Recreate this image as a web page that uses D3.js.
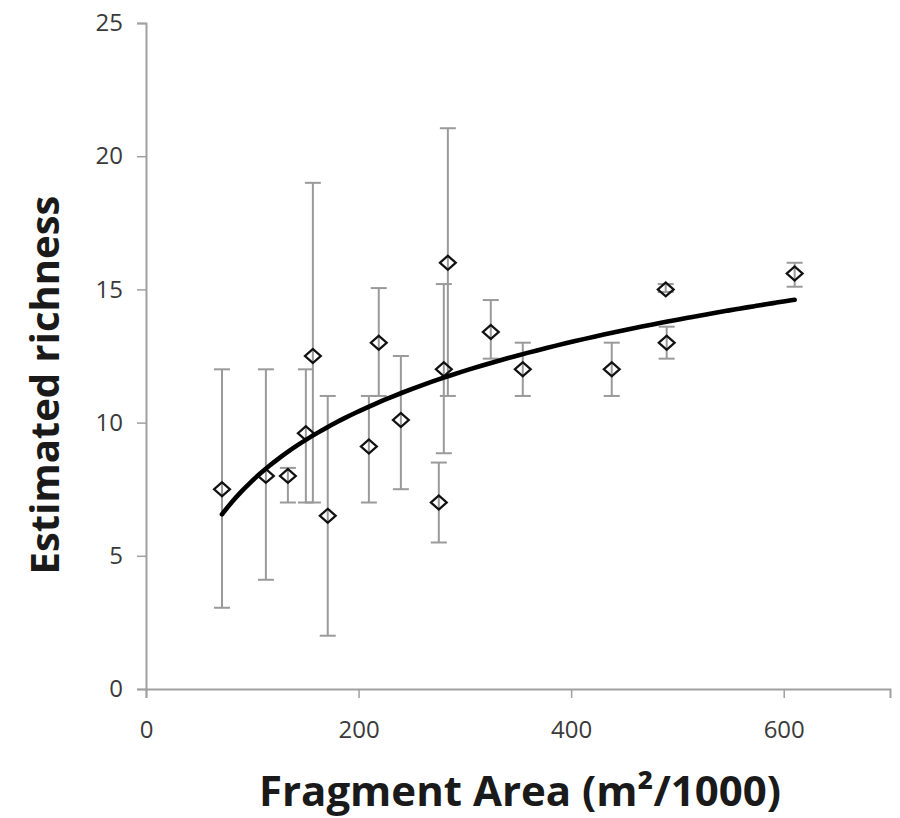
<!DOCTYPE html>
<html>
<head>
<meta charset="utf-8">
<script src="https://cdn.jsdelivr.net/npm/d3@7"></script>
<style>
  body { margin: 0; background: #fff; }
  svg { display: block; }
</style>
</head>
<body>
<div id="chart"></div>
<script>
// Fragment area (m2/1000), estimated richness and its error bar ends
const area =     [71.5, 112.8, 133.5, 150.4, 157, 171, 209.7, 219, 239.8, 275.5, 280.2, 284, 324.4, 354.5, 438.2, 489, 489.9, 610.3];
const richness = [7.5, 8.0, 8.0, 9.6, 12.5, 6.5, 9.1, 13.0, 10.1, 7.0, 12.0, 16.0, 13.4, 12.0, 12.0, 15.0, 13.0, 15.6];
const lower =    [3.05, 4.1, 7.0, 7.0, 7.0, 2.0, 7.0, 11.0, 7.5, 5.5, 8.85, 11.0, 12.4, 11.0, 11.0, 14.9, 12.4, 15.1];
const upper =    [12.0, 12.0, 8.3, 12.0, 19.0, 11.0, 11.0, 15.05, 12.5, 8.5, 15.2, 21.05, 14.6, 13.0, 13.0, 15.2, 13.6, 16.0];
const xTicks = [0, 200, 400, 600];
const yTicks = [0, 5, 10, 15, 20, 25];

const width = 900, height = 818;
const svg = d3.select('#chart').append('svg')
    .attr('width', width)
    .attr('height', height);

const x = d3.scaleLinear().domain([0, 700]).range([146, 890]);
const y = d3.scaleLinear().domain([0, 25]).range([689, 23]);

const font = "'Open Sans', 'DejaVu Sans', sans-serif";

// axes
const xAxis = svg.append('g')
    .attr('transform', `translate(0,${y(0)})`)
    .call(d3.axisBottom(x).tickValues(xTicks).tickSize(9).tickPadding(23));
const yAxis = svg.append('g')
    .attr('transform', `translate(${x(0)},0)`)
    .call(d3.axisLeft(y).tickValues(yTicks).tickSize(9).tickPadding(14));

[xAxis, yAxis].forEach(a => {
    a.select('.domain').attr('stroke', '#a0a0a0').attr('stroke-width', 2);
    a.selectAll('.tick line').attr('stroke', '#a0a0a0').attr('stroke-width', 1.5);
    a.selectAll('.tick text')
        .attr('fill', '#3a3a3a')
        .style('font-family', font)
        .style('font-size', '24px');
});

// error bars
const pts = area.map((a, i) => ({ a, r: richness[i], lo: lower[i], hi: upper[i] }));
const bars = svg.append('g').attr('stroke', '#9a9a9a').attr('stroke-width', 2);
pts.forEach(d => {
    bars.append('line').attr('x1', x(d.a)).attr('x2', x(d.a)).attr('y1', y(d.lo)).attr('y2', y(d.hi));
    bars.append('line').attr('x1', x(d.a) - 8).attr('x2', x(d.a) + 8).attr('y1', y(d.lo)).attr('y2', y(d.lo));
    bars.append('line').attr('x1', x(d.a) - 8).attr('x2', x(d.a) + 8).attr('y1', y(d.hi)).attr('y2', y(d.hi));
});

// diamond markers
const diamond = d3.symbol().type(d3.symbolDiamond2).size(160);
svg.append('g')
    .selectAll('path')
    .data(pts)
    .enter().append('path')
    .attr('d', diamond)
    .attr('transform', d => `translate(${x(d.a)},${y(d.r)}) scale(1,0.88)`)
    .attr('fill', 'none')
    .attr('stroke', '#111')
    .attr('stroke-width', 2.4);

// logarithmic trend line fitted to the points (least squares on ln x)
const lx = area.map(v => Math.log(v));
const mx = d3.mean(lx), my = d3.mean(richness);
const slope = d3.sum(lx, (v, i) => (v - mx) * (richness[i] - my)) / d3.sum(lx, v => (v - mx) * (v - mx));
const intercept = my - slope * mx;
const [a0, a1] = d3.extent(area);
const trend = d3.range(0, 61).map(i => {
    const a = a0 + (a1 - a0) * i / 60;
    return [a, intercept + slope * Math.log(a)];
});
svg.append('path')
    .datum(trend)
    .attr('d', d3.line().x(d => x(d[0])).y(d => y(d[1])).curve(d3.curveMonotoneX))
    .attr('fill', 'none')
    .attr('stroke', '#000')
    .attr('stroke-width', 4.6)
    .attr('stroke-linecap', 'round');

// axis titles
svg.append('text')
    .attr('transform', `translate(59,385) rotate(-90)`)
    .attr('text-anchor', 'middle')
    .style('font-family', font)
    .style('font-size', '40px')
    .style('font-weight', 'bold')
    .attr('fill', '#1a1a1a')
    .text('Estimated richness');

svg.append('text')
    .attr('x', 520)
    .attr('y', 806)
    .attr('text-anchor', 'middle')
    .style('font-family', font)
    .style('font-size', '42px')
    .style('font-weight', 'bold')
    .attr('fill', '#1a1a1a')
    .text('Fragment Area (m²/1000)');
</script>
</body>
</html>
